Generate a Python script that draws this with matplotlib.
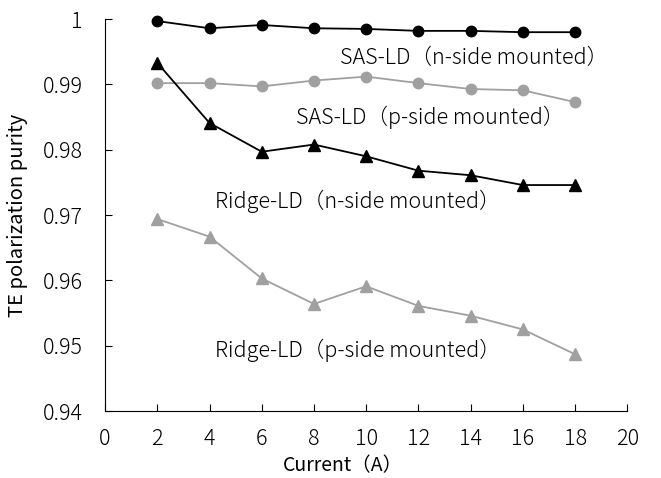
import matplotlib
matplotlib.use('Agg')
import matplotlib.pyplot as plt

plt.rcParams['font.family'] = ['Noto Sans CJK JP', 'DejaVu Sans']
plt.rcParams['font.weight'] = 'light'

current = [2, 4, 6, 8, 10, 12, 14, 16, 18]
sas_n = [0.9997, 0.9986, 0.9991, 0.9986, 0.9985, 0.9982, 0.9982, 0.9980, 0.9980]
sas_p = [0.9902, 0.9902, 0.9897, 0.9906, 0.9912, 0.9902, 0.9893, 0.9891, 0.9873]
ridge_n = [0.9933, 0.9841, 0.9797, 0.9808, 0.9790, 0.9768, 0.9761, 0.9746, 0.9746]
ridge_p = [0.9694, 0.9667, 0.9603, 0.9564, 0.9591, 0.9561, 0.9546, 0.9525, 0.9487]

xticks = list(range(0, 21, 2))
yticks = [0.94, 0.95, 0.96, 0.97, 0.98, 0.99, 1.0]
yticklabels = ['0.94', '0.95', '0.96', '0.97', '0.98', '0.99', '1']

black = '#000000'
grey = '#a0a0a0'

fig = plt.figure(figsize=(6.61, 4.78), dpi=100)
ax = fig.add_axes([0.159, 0.140, 0.790, 0.820])

ax.plot(current, sas_n, color=black, lw=1.3, marker='o', ms=7.5, clip_on=False)
ax.plot(current, sas_p, color=grey, lw=1.3, marker='o', ms=7.5, clip_on=False)
ax.plot(current, ridge_n, color=black, lw=1.3, marker='^', ms=8.5, clip_on=False)
ax.plot(current, ridge_p, color=grey, lw=1.3, marker='^', ms=8.5, clip_on=False)

# series labels next to the curves
fs = 15.5
ax.text(9.0, 0.9941, 'SAS-LD（n-side mounted）', fontsize=fs, va='center')
ax.text(7.3, 0.9850, 'SAS-LD（p-side mounted）', fontsize=fs, va='center')
ax.text(4.2, 0.9721, 'Ridge-LD（n-side mounted）', fontsize=fs, va='center')
ax.text(4.2, 0.9493, 'Ridge-LD（p-side mounted）', fontsize=fs, va='center')

ax.set_xlim(0, 20)
ax.set_ylim(0.94, 1.0)
ax.set_xticks(xticks)
ax.set_yticks(yticks)
ax.set_yticklabels(yticklabels)
ax.tick_params(direction='in', length=5, width=0.8, labelsize=15.5)
ax.tick_params(axis='x', pad=12)
ax.tick_params(axis='y', pad=16)
ax.spines['top'].set_visible(False)
ax.spines['right'].set_visible(False)
ax.spines['left'].set_linewidth(0.8)
ax.spines['bottom'].set_linewidth(0.8)

ax.set_xlabel('Current（A）', fontsize=14)
ax.set_ylabel('TE polarization purity', fontsize=14.5)
ax.xaxis.set_label_coords(0.455, -0.113)
ax.yaxis.set_label_coords(-0.148, 0.5)

fig.savefig('out.png', dpi=100)
